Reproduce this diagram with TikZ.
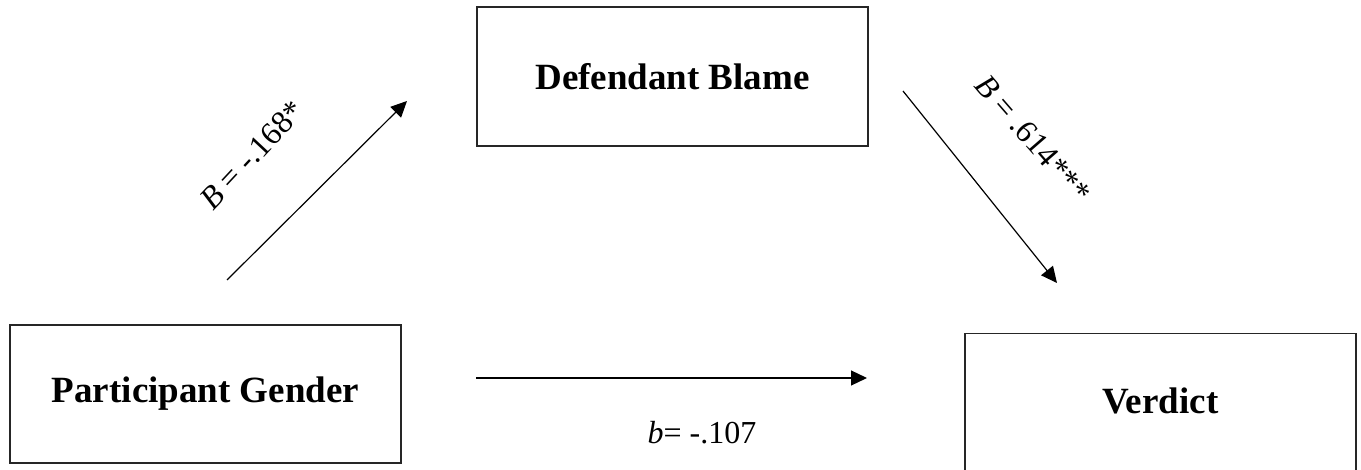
\documentclass[tikz,border=0pt]{standalone}
\usepackage{fontspec}
\setmainfont{Liberation Serif}
\usetikzlibrary{arrows.meta}
\begin{document}
\begin{tikzpicture}[x=1pt,y=-1pt,
  varbox/.style={draw=black!85, line width=1.4pt, minimum width=391pt, inner sep=0pt,
    font=\fontsize{37}{40}\selectfont\bfseries},
  conn/.style={line width=1.2pt, -{Triangle[length=16pt,width=15pt]}},
  coef/.style={font=\fontsize{32}{34}\selectfont, inner sep=0pt}]
\clip (0,0) rectangle (1361,470);
\fill[white] (0,0) rectangle (1361,470);
\node[varbox, minimum height=139pt] (db) at (672.5,76.5) {Defendant Blame};
\node[varbox, minimum height=138pt] (pg) at (205.5,394) {Participant Gender};
\node[varbox, minimum height=150pt, anchor=north] (ver) at (1160.5,333) {\raisebox{16pt}{Verdict}};
\coordinate (a1s) at (227,280);
\coordinate (a1e) at (407,101);
\coordinate (a2s) at (903,91);
\coordinate (a2e) at (1057,283);
\coordinate (a3s) at (476,378);
\coordinate (a3e) at (867,378);
\draw[conn] (a1s) -- (a1e);
\draw[conn] (a2s) -- (a2e);
\draw[conn] (a3s) -- (a3e);
\node[coef, rotate=47] (l1) at (252,155) {\textit{B} = -.168*};
\node[coef, rotate=-49] (l2) at (1033,139) {\textit{B} = .614***};
\node[coef] (l3) at (702,433) {\textit{b}= -.107};
\end{tikzpicture}
\end{document}
